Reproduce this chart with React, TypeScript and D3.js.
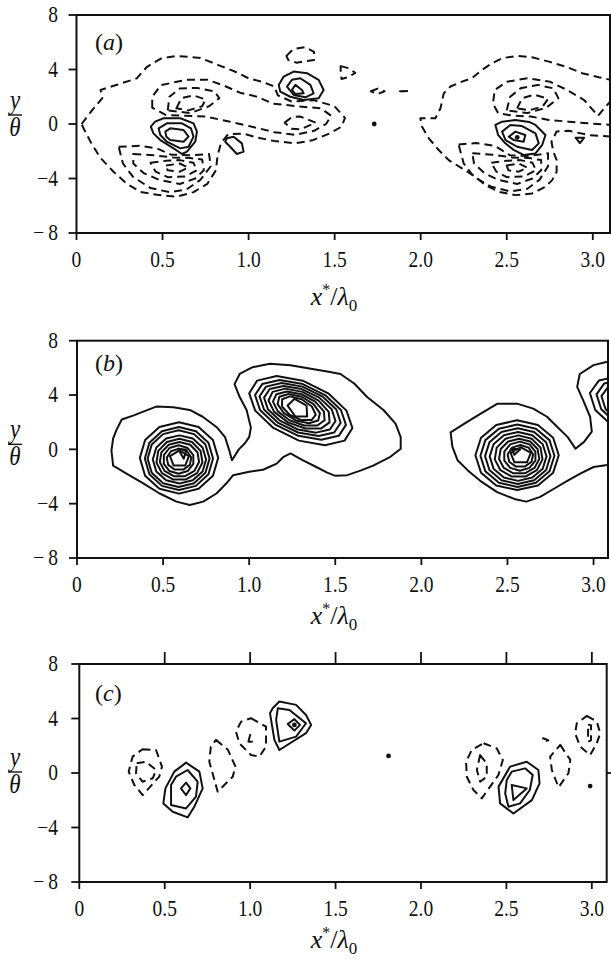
import React, { useEffect, useRef } from "react";
import * as d3 from "d3";

type Pt = [number, number];

// axes
const xTicks = [0, 0.5, 1, 1.5, 2, 2.5, 3];
const xTickLabels = ["0", "0.5", "1.0", "1.5", "2.0", "2.5", "3.0"];
const yTicks = [8, 4, 0, -4, -8];
const yTickLabels = ["8", "4", "0", "\u22124", "\u2212\u20098"];
const topTicks = [0.5, 1, 1.5, 2, 2.5, 3];
const panelNames = ["a", "b", "c"];

// (a) positive contours (solid)
const aSolid: Pt[][] = [
  [[0.432, -0.2], [0.457, 0.17], [0.506, 0.42], [0.603, 0.42], [0.68, 0.05], [0.7, -0.56], [0.69, -1.3], [0.642, -2.03], [0.613, -2.2], [0.564, -1.79], [0.487, -1.18], [0.447, -0.69]],
  [[0.477, -0.32], [0.525, 0.05], [0.613, 0.05], [0.665, -0.32], [0.68, -0.93], [0.651, -1.67], [0.603, -1.79], [0.525, -1.3], [0.487, -0.81]],
  [[0.516, -0.56], [0.545, -0.32], [0.622, -0.44], [0.651, -0.93], [0.622, -1.3], [0.545, -1.18], [0.522, -0.93]],
  [[1.175, 2.87], [1.204, 3.48], [1.262, 3.85], [1.339, 3.73], [1.407, 3.24], [1.436, 2.5], [1.407, 1.89], [1.32, 1.76], [1.242, 2.0], [1.184, 2.38]],
  [[1.223, 2.75], [1.252, 3.24], [1.3, 3.36], [1.359, 2.87], [1.378, 2.25], [1.33, 1.96], [1.262, 2.13]],
  [[1.252, 2.5], [1.272, 2.87], [1.31, 2.5], [1.32, 2.25], [1.272, 2.2]],
  [[0.874, -1.05], [0.913, -0.93], [0.961, -1.42], [0.971, -2.03], [0.932, -2.2], [0.893, -1.67], [0.864, -1.3]],
  [[2.434, -0.07], [2.473, 0.17], [2.55, 0.29], [2.63, 0.15], [2.667, -0.07], [2.725, -0.81], [2.706, -1.54], [2.667, -2.16], [2.6, -2.28], [2.54, -1.9], [2.49, -1.4], [2.45, -0.8]],
  [[2.473, -0.56], [2.521, -0.07], [2.589, -0.15], [2.667, -0.69], [2.686, -1.42], [2.647, -1.91], [2.56, -1.67], [2.493, -1.18]],
  [[2.512, -0.93], [2.55, -0.56], [2.608, -0.81], [2.598, -1.3], [2.541, -1.18]],
  [[2.9, -1.0], [2.95, -1.0], [2.925, -1.4]],
];

// (a) negative contours (dashed)
const aDashed: Pt[][] = [
  [[0.03, 0.0], [0.09, 1.0], [0.15, 1.9], [0.14, 2.5], [0.24, 2.9], [0.35, 3.35], [0.41, 4.2], [0.49, 4.8], [0.58, 5.0], [0.72, 4.85], [0.84, 4.25], [0.92, 3.85], [1.0, 3.35], [1.08, 3.1], [1.15, 2.75], [1.17, 2.1], [1.25, 1.65], [1.38, 1.75], [1.5, 1.3], [1.56, 0.45], [1.54, -0.2], [1.47, -0.7], [1.37, -1.2], [1.27, -1.42], [1.15, -1.25], [1.05, -1.0], [0.97, -0.7], [0.88, -0.75], [0.84, -1.4], [0.82, -2.3], [0.81, -3.4], [0.76, -4.4], [0.68, -5.0], [0.58, -5.34], [0.47, -5.2], [0.37, -4.98], [0.29, -4.36], [0.215, -3.5], [0.14, -2.5], [0.09, -1.5], [0.04, -0.3]],
  [[0.44, 1.2], [0.44, 2.0], [0.49, 2.85], [0.64, 3.25], [0.76, 3.25], [0.86, 2.8], [0.95, 2.3], [1.05, 2.0], [1.14, 1.5], [1.28, 1.3], [1.42, 1.15], [1.48, 0.6], [1.45, 0.0], [1.38, -0.5], [1.27, -0.8], [1.15, -0.6], [1.02, -0.2], [0.88, 0.2], [0.75, 0.55], [0.63, 0.6], [0.52, 0.65]],
  [[0.53, 1.0], [0.54, 2.0], [0.6, 2.6], [0.7, 2.65], [0.8, 2.4], [0.83, 1.9], [0.77, 1.3], [0.66, 0.8]],
  [[0.58, 1.15], [0.61, 1.9], [0.68, 2.1], [0.75, 1.8], [0.73, 1.3], [0.65, 1.0]],
  [[1.21, 0.1], [1.25, 0.5], [1.3, 0.55], [1.39, 0.1], [1.3, -0.4], [1.25, -0.35]],
  [[1.22, 5.0], [1.26, 5.5], [1.33, 5.65], [1.38, 5.3], [1.38, 4.7], [1.28, 4.5], [1.23, 4.7]],
  [[1.535, 4.25], [1.58, 4.1], [1.62, 3.75], [1.58, 3.45], [1.54, 3.3], [1.535, 3.8]],
  [[1.71, 2.4], [1.75, 2.6], [1.79, 2.4], [1.75, 2.2]],
  [[1.88, 2.4], [1.93, 2.42], [1.93, 2.38]],
  [[0.245, -1.67], [0.37, -1.6], [0.47, -1.8], [0.55, -2.25], [0.66, -2.3], [0.77, -2.2], [0.78, -3.1], [0.72, -4.1], [0.64, -4.8], [0.54, -5.0], [0.43, -4.7], [0.33, -3.9], [0.27, -2.9]],
  [[0.33, -2.2], [0.45, -2.3], [0.56, -2.45], [0.66, -2.5], [0.73, -2.6], [0.74, -3.4], [0.69, -4.0], [0.6, -4.4], [0.48, -4.1], [0.39, -3.6], [0.33, -2.9]],
  [[0.43, -2.85], [0.52, -2.7], [0.6, -2.65], [0.68, -2.85], [0.7, -3.4], [0.63, -3.85], [0.53, -3.9], [0.46, -3.5]],
  [[0.52, -3.05], [0.6, -2.9], [0.65, -3.2], [0.6, -3.5], [0.53, -3.4]],
  [[3.2, 3.2], [3.105, 3.24], [3.035, 3.43], [2.938, 3.73], [2.841, 4.22], [2.744, 4.58], [2.647, 4.9], [2.56, 5.0], [2.473, 4.83], [2.415, 4.46], [2.356, 3.97], [2.298, 3.36], [2.24, 3.11], [2.173, 2.75], [2.134, 2.25], [2.115, 1.15], [2.085, 0.42], [1.998, 0.42], [2.008, -0.2], [2.047, -1.05], [2.105, -1.91], [2.163, -2.65], [2.24, -3.26], [2.318, -3.87], [2.376, -4.49], [2.454, -4.98], [2.551, -5.22], [2.647, -5.1], [2.725, -4.61], [2.764, -4.12], [2.79, -3.5], [2.79, -2.65], [2.77, -2.0], [2.76, -1.3], [2.79, -0.55], [2.86, -0.5], [2.977, -0.81], [3.105, -0.93], [3.2, -0.95]],
  [[3.2, 0.0], [3.105, -0.07], [2.977, 0.05], [2.86, 0.17], [2.744, 0.3], [2.64, 0.55], [2.53, 0.62], [2.45, 0.8], [2.42, 1.5], [2.43, 2.5], [2.5, 3.1], [2.62, 3.36], [2.75, 3.11], [2.85, 2.5], [2.95, 1.76], [3.03, 0.6], [3.07, 1.2], [3.105, 1.7], [3.2, 1.9]],
  [[2.5, 1.0], [2.52, 2.0], [2.58, 2.62], [2.68, 2.87], [2.77, 2.62], [2.8, 1.9], [2.73, 1.2], [2.62, 0.8]],
  [[2.56, 1.15], [2.59, 1.9], [2.66, 2.15], [2.74, 1.85], [2.71, 1.3], [2.63, 1.0]],
  [[2.22, -1.5], [2.32, -1.4], [2.43, -1.6], [2.52, -2.3], [2.63, -2.35], [2.74, -2.15], [2.74, -3.1], [2.69, -4.1], [2.62, -4.75], [2.52, -4.95], [2.41, -4.6], [2.31, -3.9], [2.25, -2.9]],
  [[2.3, -2.15], [2.42, -2.25], [2.53, -2.45], [2.63, -2.5], [2.7, -2.65], [2.7, -3.4], [2.65, -4.0], [2.56, -4.4], [2.45, -4.1], [2.37, -3.6], [2.31, -2.9]],
  [[2.41, -2.85], [2.5, -2.7], [2.58, -2.65], [2.65, -2.85], [2.67, -3.4], [2.6, -3.85], [2.5, -3.9], [2.44, -3.5]],
  [[2.5, -3.05], [2.57, -2.9], [2.62, -3.2], [2.57, -3.5], [2.51, -3.4]],
];
const aDots: Pt[] = [[1.73, 0.0], [2.561, -0.98]];

// (b) outer contours
const bSolid: Pt[][] = [
  [[0.2, -0.1], [0.21, 0.8], [0.23, 1.45], [0.26, 2.2], [0.33, 2.5], [0.4, 2.85], [0.46, 3.15], [0.56, 3.1], [0.655, 2.9], [0.73, 2.4], [0.81, 1.65], [0.86, 0.9], [0.885, -0.1], [0.9, -0.8], [0.94, 0.0], [0.975, 0.45], [1.0, 0.9], [1.01, 1.6], [0.985, 2.9], [0.945, 3.85], [0.915, 4.8], [0.945, 5.55], [1.02, 6.05], [1.12, 6.3], [1.24, 6.2], [1.35, 5.95], [1.47, 5.7], [1.53, 5.55], [1.61, 4.85], [1.685, 3.85], [1.78, 2.9], [1.85, 1.9], [1.88, 0.9], [1.88, 0.05], [1.82, -0.55], [1.72, -1.2], [1.65, -1.55], [1.57, -1.9], [1.5, -1.95], [1.45, -1.7], [1.39, -1.3], [1.31, -0.8], [1.24, -0.3], [1.2, -0.55], [1.16, -1.05], [1.08, -1.5], [1.0, -1.65], [0.907, -1.9], [0.868, -2.5], [0.81, -3.25], [0.733, -3.85], [0.655, -4.1], [0.578, -3.85], [0.48, -3.25], [0.385, -2.5], [0.29, -1.8], [0.21, -1.2]],
  [[2.18, 0.2], [2.17, 1.25], [2.25, 1.9], [2.34, 2.6], [2.44, 3.35], [2.56, 3.35], [2.65, 3.0], [2.73, 2.4], [2.79, 1.65], [2.85, 0.9], [2.895, 0.05], [2.945, 0.55], [2.99, 1.3], [2.98, 2.4], [2.94, 3.6], [2.905, 4.6], [2.92, 5.55], [3.0, 6.2], [3.08, 6.45], [3.2, 6.5], [3.2, -1.2], [3.08, -1.15], [3.0, -1.3], [2.92, -1.8], [2.85, -2.3], [2.77, -2.9], [2.69, -3.5], [2.61, -3.85], [2.54, -3.65], [2.44, -3.15], [2.34, -2.3], [2.27, -1.55], [2.21, -0.8]],
  [[0.587, 0.05], [0.636, -0.02], [0.62, -0.69]],
  [[2.524, 0.05], [2.575, 0.0], [2.54, -0.4]],
];

// (b) concentric rings: cx, cy, rx, ry, tilt (x per unit y), vertices
const bRings: number[][] = [
  [0.5925, -0.63, 0.2275, 2.63, 0, 12],
  [0.592, -0.68, 0.198, 2.32, 0, 12],
  [0.59, -0.685, 0.18, 2.085, 0, 12],
  [0.595, -0.745, 0.155, 1.775, 0, 12],
  [0.595, -0.75, 0.135, 1.53, 0, 11],
  [0.595, -0.745, 0.115, 1.285, 0, 11],
  [0.59, -0.75, 0.09, 1.05, 0, 10],
  [0.5925, -0.745, 0.0725, 0.795, 0, 9],
  [0.595, -0.685, 0.058, 0.615, 0, 5],
  [1.3, 2.85, 0.265, 2.55, -0.055, 12],
  [1.298, 2.9, 0.235, 2.2, -0.055, 12],
  [1.296, 2.93, 0.21, 1.95, -0.055, 12],
  [1.294, 2.95, 0.185, 1.72, -0.055, 12],
  [1.292, 2.97, 0.16, 1.5, -0.055, 11],
  [1.29, 2.98, 0.135, 1.28, -0.055, 11],
  [1.288, 3.0, 0.11, 1.08, -0.055, 10],
  [1.286, 3.0, 0.088, 0.9, -0.055, 9],
  [1.285, 3.0, 0.058, 0.72, -0.03, 5],
  [2.556, -0.43, 0.242, 2.57, 0, 12],
  [2.558, -0.47, 0.215, 2.3, 0, 12],
  [2.56, -0.5, 0.19, 2.05, 0, 12],
  [2.562, -0.52, 0.165, 1.8, 0, 12],
  [2.565, -0.52, 0.14, 1.55, 0, 11],
  [2.568, -0.52, 0.118, 1.3, 0, 11],
  [2.572, -0.5, 0.095, 1.07, 0, 10],
  [2.575, -0.5, 0.075, 0.82, 0, 9],
  [2.577, -0.45, 0.062, 0.62, 0, 5],
  [3.29, 2.9, 0.28, 2.5, -0.055, 12],
  [3.29, 2.95, 0.245, 2.2, -0.055, 12],
  [3.29, 2.95, 0.22, 1.95, -0.055, 12],
];

// (c)
const cSolid: Pt[][] = [
  [[0.625, 0.76], [0.703, 0.1], [0.722, -1.13], [0.673, -2.48], [0.634, -3.26], [0.547, -2.84], [0.492, -2.23], [0.504, -1.13], [0.556, 0.1]],
  [[0.537, -0.88], [0.566, -0.27], [0.634, 0.22], [0.693, -0.64], [0.683, -1.74], [0.625, -2.6], [0.537, -2.35]],
  [[0.595, -1.13], [0.625, -0.71], [0.65, -1.13], [0.625, -1.62]],
  [[1.116, 4.39], [1.132, 4.75], [1.171, 5.25], [1.269, 5.0], [1.327, 4.26], [1.357, 3.53], [1.327, 2.92], [1.171, 1.69], [1.142, 2.43]],
  [[1.152, 3.9], [1.162, 4.75], [1.23, 4.63], [1.327, 3.65], [1.269, 2.67], [1.171, 2.3]],
  [[1.22, 3.6], [1.259, 3.95], [1.292, 3.53], [1.259, 3.11]],
  [[2.454, -1.0], [2.522, 0.47], [2.619, 0.83], [2.687, 0.22], [2.694, -0.76], [2.649, -1.99], [2.541, -2.97], [2.463, -2.23]],
  [[2.502, -0.51], [2.531, 0.1], [2.61, 0.34], [2.654, -0.15], [2.637, -1.25], [2.58, -2.23], [2.512, -2.48], [2.493, -1.5]],
  [[2.531, -0.88], [2.619, -1.13], [2.541, -1.99]],
];
const cDashed: Pt[][] = [
  [[0.37, 1.74], [0.449, 1.69], [0.484, 0.47], [0.468, -0.27], [0.371, -1.62], [0.322, -0.88], [0.289, 0.1], [0.312, 1.2]],
  [[0.336, 0.71], [0.39, 0.83], [0.449, 0.22], [0.43, -0.39], [0.37, -0.64], [0.332, -0.02]],
  [[0.8, 2.43], [0.87, 1.7], [0.914, 0.47], [0.898, -0.27], [0.81, -1.37], [0.761, 0.83], [0.77, 1.94]],
  [[1.005, 4.02], [1.093, 3.4], [1.093, 1.94], [1.054, 1.2], [1.005, 1.32], [0.937, 2.18], [0.917, 3.04], [0.947, 3.77]],
  [[0.99, 2.3], [1.0, 2.8], [1.01, 2.3]],
  [[2.366, 2.18], [2.443, 1.81], [2.479, 0.96], [2.453, -0.15], [2.356, -1.86], [2.307, -1.25], [2.268, -0.27], [2.264, 0.83], [2.297, 1.69]],
  [[2.346, 1.32], [2.385, 0.71], [2.385, -0.27], [2.346, -0.64], [2.327, 0.22]],
  [[2.715, 2.55], [2.745, 2.4], [2.715, 2.3]],
  [[2.815, 2.06], [2.874, 0.96], [2.863, -0.02], [2.805, -1.05], [2.766, 0.22], [2.756, 1.2]],
  [[2.971, 4.19], [3.029, 3.77], [3.049, 2.92], [3.029, 2.18], [2.99, 1.32], [2.932, 1.94], [2.902, 2.92], [2.912, 3.65]],
  [[2.978, 3.55], [2.995, 3.5], [2.995, 2.4], [2.978, 2.3]],
];
const cDots: Pt[] = [[1.259, 3.53], [1.81, 1.25], [2.99, -0.96]];

const ringPoints = (r: number[]): Pt[] => {
  const [cx, cy, rx, ry, tilt, n] = r;
  return d3.range(n).map((k) => {
    const t = (2 * Math.PI * k) / n + Math.PI / 2;
    const s = Math.sin(t);
    return [cx + rx * Math.cos(t) + tilt * ry * s, cy + ry * s] as Pt;
  });
};

// frame geometry of the three stacked panels (pixels)
const frames = [
  { left: 76.5, right: 610, top: 15, bottom: 233, xMax: 3.1, nameY: 50, barShift: -9, titleY: 305, topTicks: false, rightTick: false },
  { left: 77, right: 608, top: 340.7, bottom: 558, xMax: 3.084, nameY: 371, barShift: -5, titleY: 624, topTicks: false, rightTick: false },
  { left: 79.3, right: 606.7, top: 664, bottom: 882, xMax: 3.087, nameY: 701, barShift: -1, titleY: 948, topTicks: true, rightTick: true },
];

const content = [
  { solid: aSolid, dashed: aDashed, rings: [] as number[][], dots: aDots },
  { solid: bSolid, dashed: [] as Pt[][], rings: bRings, dots: [] as Pt[] },
  { solid: cSolid, dashed: cDashed, rings: [] as number[][], dots: cDots },
];

const serif = "'Liberation Serif', 'Times New Roman', serif";
const ink = "#111";

export default function App() {
  const ref = useRef<SVGSVGElement>(null);

  useEffect(() => {
    document.body.style.margin = "0";
    const svg = d3.select(ref.current);
    svg.selectAll("*").remove();
    const defs = svg.append("defs");

    frames.forEach((f, i) => {
      const c = content[i];
      const x = d3.scaleLinear().domain([0, f.xMax]).range([f.left, f.right]);
      const y = d3.scaleLinear().domain([-8, 8]).range([f.bottom, f.top]);
      const g = svg.append("g");

      const clipId = `frame-${panelNames[i]}`;
      defs.append("clipPath").attr("id", clipId).append("rect")
        .attr("x", f.left).attr("y", f.top)
        .attr("width", f.right - f.left).attr("height", f.bottom - f.top);

      const line = d3.line<Pt>().x((d) => x(d[0])).y((d) => y(d[1])).curve(d3.curveLinearClosed);

      const plot = g.append("g")
        .attr("clip-path", `url(#${clipId})`)
        .attr("fill", "none")
        .attr("stroke", ink)
        .attr("stroke-width", 2)
        .attr("stroke-linejoin", "round");

      plot.selectAll("path.solid")
        .data([...c.solid, ...c.rings.map(ringPoints)])
        .join("path")
        .attr("class", "solid")
        .attr("d", line);

      plot.selectAll("path.dashed")
        .data(c.dashed)
        .join("path")
        .attr("class", "dashed")
        .attr("stroke-dasharray", "8 5")
        .attr("d", line);

      plot.selectAll("circle")
        .data(c.dots)
        .join("circle")
        .attr("cx", (d) => x(d[0]))
        .attr("cy", (d) => y(d[1]))
        .attr("r", 2.4)
        .attr("fill", ink)
        .attr("stroke", "none");

      // frame box
      g.append("rect")
        .attr("x", f.left).attr("y", f.top)
        .attr("width", f.right - f.left).attr("height", f.bottom - f.top)
        .attr("fill", "none").attr("stroke", ink).attr("stroke-width", 2);

      // ticks
      const ticks = g.append("g").attr("stroke", ink).attr("stroke-width", 1.8);
      ticks.selectAll("line.xt").data(xTicks).join("line").attr("class", "xt")
        .attr("x1", (d) => x(d)).attr("x2", (d) => x(d))
        .attr("y1", f.bottom).attr("y2", f.bottom + 7);
      ticks.selectAll("line.yt").data(yTicks).join("line").attr("class", "yt")
        .attr("x1", f.left - 8).attr("x2", f.left)
        .attr("y1", (d) => y(d)).attr("y2", (d) => y(d));
      if (f.topTicks) {
        ticks.selectAll("line.tt").data(topTicks).join("line").attr("class", "tt")
          .attr("x1", (d) => x(d)).attr("x2", (d) => x(d))
          .attr("y1", f.top).attr("y2", f.top - 12);
      }
      if (f.rightTick) {
        ticks.append("line")
          .attr("x1", f.right).attr("x2", f.right + 5)
          .attr("y1", y(0)).attr("y2", y(0));
      }

      // tick labels (slightly tall type, as in the print)
      const labels = g.append("g").attr("font-family", serif).attr("font-size", 19.5).attr("fill", ink);
      xTicks.forEach((v, k) => {
        labels.append("text")
          .attr("transform", `translate(${x(v)},${f.bottom + 33.5}) scale(1,1.16)`)
          .attr("text-anchor", "middle")
          .text(xTickLabels[k]);
      });
      yTicks.forEach((v, k) => {
        labels.append("text")
          .attr("transform", `translate(${58},${y(v) + 7.3}) scale(1,1.16)`)
          .attr("text-anchor", "end")
          .text(yTickLabels[k]);
      });

      // panel name
      const name = g.append("text")
        .attr("x", 95).attr("y", f.nameY)
        .attr("font-family", serif).attr("font-size", 24).attr("fill", ink);
      name.append("tspan").text("(");
      name.append("tspan").attr("font-style", "italic").text(panelNames[i]);
      name.append("tspan").text(")");

      // y label as a fraction y / theta
      const bar = y(0) + f.barShift;
      g.append("text")
        .attr("transform", `translate(15,${bar - 6}) scale(1,1.15)`)
        .attr("text-anchor", "middle")
        .attr("font-family", serif).attr("font-style", "italic").attr("font-size", 23).attr("fill", ink)
        .text("y");
      g.append("line")
        .attr("x1", 8).attr("x2", 22).attr("y1", bar).attr("y2", bar)
        .attr("stroke", ink).attr("stroke-width", 1.4);
      g.append("text")
        .attr("transform", `translate(15,${bar + 21}) scale(1,1.15)`)
        .attr("text-anchor", "middle")
        .attr("font-family", serif).attr("font-style", "italic").attr("font-size", 23).attr("fill", ink)
        .text("\u03b8");

      // x label x*/lambda_0
      const title = g.append("text")
        .attr("x", 334).attr("y", f.titleY)
        .attr("text-anchor", "middle")
        .attr("font-family", serif).attr("font-size", 26).attr("fill", ink);
      title.append("tspan").attr("font-style", "italic").text("x");
      title.append("tspan").attr("font-size", 16).attr("dy", -10).text("*");
      title.append("tspan").attr("dy", 10).text("/");
      title.append("tspan").attr("font-style", "italic").text("\u03bb");
      title.append("tspan").attr("font-size", 17).attr("dy", 6).text("0");
    });
  }, []);

  return <svg ref={ref} width={611} height={964} style={{ display: "block", background: "#fff" }} />;
}
